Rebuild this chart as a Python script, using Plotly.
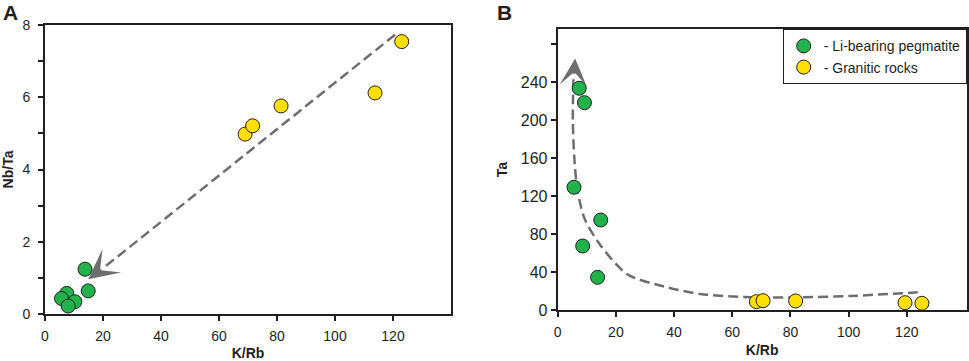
import plotly.graph_objects as go

# ---------------- data ----------------
# Panel A: K/Rb vs Nb/Ta
a_peg_krb = [13.8, 14.9, 7.5, 5.7, 10.3, 8.0]
a_peg_nbta = [1.24, 0.64, 0.57, 0.43, 0.34, 0.22]
a_gr_krb = [69.0, 71.6, 81.4, 113.8, 123.0]
a_gr_nbta = [4.98, 5.21, 5.76, 6.12, 7.54]
a_trend_krb = [120.7, 20.7]
a_trend_nbta = [7.73, 1.31]
a_arrow_tip = (14.9, 0.96)

# Panel B: K/Rb vs Ta
b_peg_krb = [7.4, 9.2, 5.6, 14.8, 8.6, 13.7]
b_peg_ta = [233.6, 218.4, 129.3, 94.8, 67.4, 34.4]
b_gr_krb = [68.3, 70.6, 81.8, 119.4, 125.2]
b_gr_ta = [8.8, 9.8, 9.5, 7.7, 7.1]
b_trend_krb = [5.4, 5.2, 5.7, 6.8, 9.4, 15.0, 24.0, 37.6, 49.0, 66.3, 83.6, 100.8, 123.8]
b_trend_ta = [243, 200, 161, 126, 95, 67, 37.5, 23.9, 16.9, 13.4, 13.4, 14.8, 18.6]
b_arrow_tip = (6.0, 265)

x_ticks = [0, 20, 40, 60, 80, 100, 120]
a_y_ticks = [0, 1, 2, 3, 4, 5, 6, 7, 8]
a_y_labels = ["0", "", "2", "", "4", "", "6", "", "8"]
b_y_ticks = [0, 40, 80, 120, 160, 200, 240, 280]
b_y_labels = ["0", "40", "80", "120", "160", "200", "240", ""]

names = ["- Li-bearing pegmatite", "- Granitic rocks"]

GREEN = "#22b24c"
YELLOW = "#ffdf00"
EDGE = "#231f20"
GRAY = "#6d6e70"
FONT = "Arial, Liberation Sans, sans-serif"

fig = go.Figure()

# Panel A
fig.add_trace(go.Scatter(x=a_trend_krb, y=a_trend_nbta, mode="lines",
                         line=dict(color=GRAY, width=2.5, dash="10px,5px"),
                         showlegend=False, hoverinfo="skip", xaxis="x", yaxis="y"))
fig.add_trace(go.Scatter(x=a_peg_krb, y=a_peg_nbta, mode="markers", name=names[0],
                         legendgroup="peg", showlegend=False,
                         marker=dict(color=GREEN, size=14, line=dict(color=EDGE, width=1)),
                         xaxis="x", yaxis="y"))
fig.add_trace(go.Scatter(x=a_gr_krb, y=a_gr_nbta, mode="markers", name=names[1],
                         legendgroup="gr", showlegend=False,
                         marker=dict(color=YELLOW, size=14, line=dict(color=EDGE, width=1)),
                         xaxis="x", yaxis="y"))

# Panel B
fig.add_trace(go.Scatter(x=b_trend_krb, y=b_trend_ta, mode="lines",
                         line=dict(color=GRAY, width=2.5, dash="10px,5px", shape="spline", smoothing=0.8),
                         showlegend=False, hoverinfo="skip", xaxis="x2", yaxis="y2"))
fig.add_trace(go.Scatter(x=b_peg_krb, y=b_peg_ta, mode="markers", name=names[0],
                         legendgroup="peg",
                         marker=dict(color=GREEN, size=14, line=dict(color=EDGE, width=1)),
                         xaxis="x2", yaxis="y2"))
fig.add_trace(go.Scatter(x=b_gr_krb, y=b_gr_ta, mode="markers", name=names[1],
                         legendgroup="gr",
                         marker=dict(color=YELLOW, size=14, line=dict(color=EDGE, width=1)),
                         xaxis="x2", yaxis="y2"))

axis_common = dict(showline=True, linecolor=EDGE, linewidth=2, mirror=True,
                   ticks="outside", ticklen=5, tickwidth=1.5, tickcolor=EDGE,
                   showgrid=False, zeroline=False, automargin=False,
                   title_font=dict(family=FONT, size=14, color=EDGE))
tick14 = dict(family=FONT, size=14, color=EDGE)
tick16 = dict(family=FONT, size=16, color=EDGE)

fig.update_layout(
    width=969, height=361, template="none",
    margin=dict(l=0, r=0, t=0, b=0),
    paper_bgcolor="white", plot_bgcolor="white",
    font=dict(family=FONT, size=14, color=EDGE),
    xaxis=dict(domain=[45 / 969, 451 / 969], range=[0, 140], tickvals=x_ticks, tickfont=tick14,
               title=dict(text="<b>K/Rb</b>", standoff=6), ticklabelstandoff=3, anchor="y", **axis_common),
    yaxis=dict(domain=[1 - 314 / 361, 1 - 25 / 361], range=[0, 8], tickvals=a_y_ticks, tickfont=tick14,
               ticktext=a_y_labels, title=dict(text="<b>Nb/Ta</b>", standoff=10),
               ticklabelstandoff=5, anchor="x", **axis_common),
    xaxis2=dict(domain=[557.7 / 969, 966.7 / 969], range=[0, 140.6], tickvals=x_ticks, tickfont=tick14,
                title=dict(text="<b>K/Rb</b>", standoff=6), ticklabelstandoff=3, anchor="y2", **axis_common),
    yaxis2=dict(domain=[1 - 310 / 361, 1 - 29 / 361], range=[0, 296], tickvals=b_y_ticks, tickfont=tick16,
                ticktext=b_y_labels, title=dict(text="<b>Ta</b>", standoff=10),
                ticklabelstandoff=0, anchor="x2", **axis_common),
    legend=dict(x=966.7 / 969, y=1 - 29.3 / 361, xanchor="right", yanchor="top",
                bordercolor=EDGE, borderwidth=1, bgcolor="white",
                font=dict(family=FONT, size=14, color=EDGE), itemsizing="trace",
                tracegroupgap=0),
    showlegend=True,
)

# arrow heads
fig.add_annotation(x=a_arrow_tip[0], y=a_arrow_tip[1], xref="x", yref="y",
                   ax=14, ay=-11, text="", showarrow=True, arrowhead=3,
                   arrowsize=2.0, arrowwidth=2.5, arrowcolor=GRAY)
fig.add_annotation(x=b_arrow_tip[0], y=b_arrow_tip[1], xref="x2", yref="y2",
                   ax=-1.2, ay=17, text="", showarrow=True, arrowhead=3,
                   arrowsize=1.8, arrowwidth=2.5, arrowcolor=GRAY)

# panel labels
fig.add_annotation(x=10 / 969, y=1, xref="paper", yref="paper", text="<b>A</b>",
                   showarrow=False, font=dict(family=FONT, size=21, color=EDGE),
                   xanchor="center", yanchor="top", borderpad=0)
fig.add_annotation(x=504 / 969, y=1, xref="paper", yref="paper", text="<b>B</b>",
                   showarrow=False, font=dict(family=FONT, size=21, color=EDGE),
                   xanchor="center", yanchor="top", borderpad=0)

fig.write_html("out.html", config={"displayModeBar": False},
               post_script="document.body.style.margin='0';document.body.style.overflow='hidden';")
